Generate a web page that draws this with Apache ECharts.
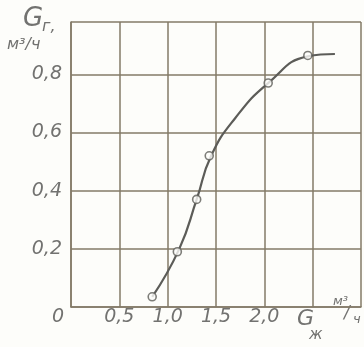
<!DOCTYPE html>
<html>
<head>
<meta charset="utf-8">
<script src="https://cdn.jsdelivr.net/npm/echarts@6/dist/echarts.min.js"></script>
<style>
  html, body { margin: 0; padding: 0; background: #fdfdfa; }
  #chart { width: 364px; height: 347px; }
</style>
</head>
<body>
<div id="chart"></div>
<script>
// measured points (open circles)
const pointsX = [0.84, 1.10, 1.30, 1.43, 2.04, 2.45];
const pointsY = [0.035, 0.19, 0.37, 0.52, 0.77, 0.865];
// hand-drawn curve through them
const curveX = [0.84, 1.12, 1.30, 1.45, 1.70, 2.04, 2.45, 2.73];
const curveY = [0.035, 0.20, 0.37, 0.52, 0.65, 0.77, 0.862, 0.87];
const xTicks = ['0', '0,5', '1,0', '1,5', '2,0'];
const yTicks = ['0,2', '0,4', '0,6', '0,8'];

const gridColor = '#837a67';
const inkColor = '#5c5c58';
const textColor = '#727270';
const font = '"DejaVu Sans", sans-serif';

function txt(text, left, top, size) {
  return {
    type: 'text', left: left, top: top,
    style: { text: text, fill: textColor, fontSize: size, fontStyle: 'italic', fontFamily: font }
  };
}

const chart = echarts.init(document.getElementById('chart'));

chart.setOption({
  backgroundColor: '#fdfdfa',
  animation: false,
  grid: { left: 71, right: 2, top: 22, bottom: 40 },
  xAxis: {
    type: 'value',
    min: 0,
    max: 3.0,
    interval: 0.5,
    axisLine: { show: true, lineStyle: { color: gridColor, width: 1.5 } },
    axisTick: { show: false },
    splitLine: { show: true, lineStyle: { color: gridColor, width: 1.5 } },
    axisLabel: {
      margin: 1,
      color: textColor,
      fontSize: 19,
      fontStyle: 'italic',
      fontFamily: font,
      formatter: function (v) {
        const i = Math.round(v / 0.5);
        if (Math.abs(v - i * 0.5) > 1e-6 || i >= xTicks.length) return '';
        if (i === 0) return '{o|' + xTicks[0] + '}';
        return xTicks[i];
      },
      rich: { o: { padding: [0, 26, 0, 0], color: textColor, fontSize: 19, fontStyle: 'italic', fontFamily: font } }
    }
  },
  yAxis: {
    type: 'value',
    min: 0,
    max: 0.98,
    interval: 0.2,
    axisLine: { show: true, lineStyle: { color: gridColor, width: 1.5 } },
    axisTick: { show: false },
    splitLine: { show: true, lineStyle: { color: gridColor, width: 1.5 } },
    axisLabel: {
      margin: 9,
      color: textColor,
      fontSize: 19,
      fontStyle: 'italic',
      fontFamily: font,
      formatter: function (v) {
        const i = Math.round(v / 0.2);
        if (Math.abs(v - i * 0.2) > 1e-6 || i < 1 || i > yTicks.length) return '';
        return yTicks[i - 1];
      }
    }
  },
  graphic: [
    // y axis title: G_г, м³/ч
    txt('G', 23, 6, 26),
    txt('г,', 42, 19, 16),
    txt('м³/ч', 7, 37, 16),
    // x axis title: G_ж, м³/ч
    txt('G', 297, 308, 22),
    txt('ж', 309, 328, 15),
    txt('м³', 333, 295, 13),
    txt('/', 344, 305, 17),
    txt('ч', 353, 313, 13)
  ],
  series: [
    {
      type: 'line',
      data: curveX.map((x, i) => [x, curveY[i]]),
      smooth: 0.5,
      symbol: 'none',
      lineStyle: { color: inkColor, width: 2.2 },
      z: 3
    },
    {
      type: 'scatter',
      data: pointsX.map((x, i) => [x, pointsY[i]]),
      symbol: 'circle',
      symbolSize: 8,
      itemStyle: { color: '#fdfdfa', borderColor: inkColor, borderWidth: 1.6 },
      z: 4
    }
  ]
});
</script>
</body>
</html>
